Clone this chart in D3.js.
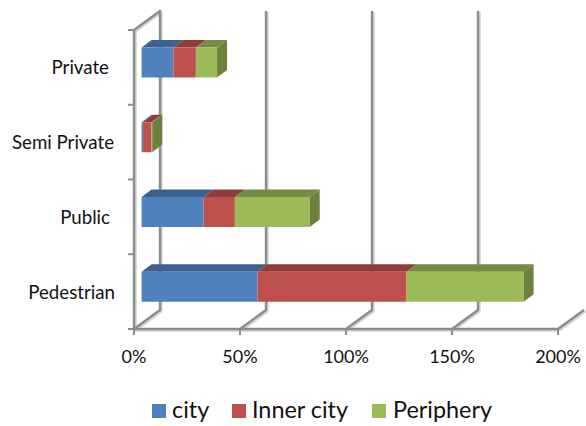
<!DOCTYPE html>
<html><head><meta charset="utf-8">
<script src="https://cdnjs.cloudflare.com/ajax/libs/d3/7.8.5/d3.min.js"></script>
<style>html,body{margin:0;padding:0;background:#fff}svg{display:block}text{font-family:Lato,"Open Sans",sans-serif;fill:#111}</style>
</head><body><svg id="c" width="586" height="426"></svg>
<script>
const categories=["Private","Semi Private","Public","Pedestrian"];
const labelRightEdges=[109,114,110,115];
const seriesNames=["city","Inner city","Periphery"];
const cityValues=[15,0.7,29.3,54.7];
const innerValues=[10.6,4,14.7,70.3];
const peripheryValues=[10,0.3,35.3,55.2];
const ticks=[0,50,100,150,200];
const colors=["#4f81bd","#c0504d","#9bbb59"];
const topColors=["#3c618e","#903c3a","#748c43"];
const sideColors=["#385a85","#863836","#6c823e"];
const seriesValues=[cityValues,innerValues,peripheryValues];

const svg=d3.select("#c");
const x=d3.scaleLinear().domain([0,200]).range([134,558]);
const y=d3.scaleBand().domain(categories).range([30,329]);
const wall={dx:26,dy:-19}, gap={dx:7.6,dy:-6}, depth={dx:10,dy:-7.5};
const barH=30, barOff=17.5;
const axis="#8c8c8c";
const line=(a,w=2,c=axis)=>svg.append("path").attr("d",d3.line()(a)).attr("fill","none").attr("stroke",c).attr("stroke-width",w).attr("stroke-linejoin","round");

[[1,3.5,"#d4d4d4"],[0,2.4,axis]].forEach(([s,w,c])=>{
  ticks.forEach(t=>{
    const X=x(t), B=y.range()[1];
    if(t>0) line([[X,B],[X+wall.dx,B+wall.dy],[X+wall.dx,y.range()[0]+wall.dy]].slice(0,t===200?2:3).map(p=>[p[0]+s,p[1]+s]),w,c);
    else line([[X,B],[X+wall.dx,B+wall.dy],[X+wall.dx,y.range()[0]+wall.dy],[X,y.range()[0]]].map(p=>[p[0]+s,p[1]+s]),w,c);
  });
  line([[x(0)+s,y.range()[0]],[x(0)+s,y.range()[1]+s],[x(200)+s,y.range()[1]+s]],w,c);
});
ticks.forEach(t=>line([[x(t),329],[x(t),335]],2));
y.domain().forEach(c=>line([[128,y(c)],[134,y(c)]],2));
line([[128,329],[134,329]],2);

categories.forEach((c,i)=>{
  let acc=0;
  const y0=y(c)+barOff;
  seriesValues.forEach((vals,s)=>{
    const x0=x(acc)+gap.dx, x1=x(acc+vals[i])+gap.dx;
    acc+=vals[i];
    svg.append("polygon").attr("fill",topColors[s]).attr("points",[[x0,y0],[x0+depth.dx,y0+depth.dy],[x1+depth.dx,y0+depth.dy],[x1,y0]].join(" "));
    svg.append("rect").attr("x",x0).attr("y",y0).attr("width",x1-x0).attr("height",barH).attr("fill",colors[s]);
    if(s===2) svg.append("polygon").attr("fill",sideColors[s]).attr("points",[[x1,y0],[x1+depth.dx,y0+depth.dy],[x1+depth.dx,y0+depth.dy+barH],[x1,y0+barH]].join(" "));
  });
});

categories.forEach((c,i)=>svg.append("text").attr("x",labelRightEdges[i]).attr("y",y(c)+y.bandwidth()/2+7).attr("text-anchor","end").attr("font-size",18.7).text(c));
ticks.forEach(t=>svg.append("text").attr("x",x(t)).attr("y",362.5).attr("text-anchor","middle").attr("font-size",18).text(t+"%"));

const legendSquare=[152,232,372], legendText=[172,252,393];
seriesNames.forEach((n,i)=>{
  svg.append("rect").attr("x",legendSquare[i]).attr("y",404).attr("width",14).attr("height",14).attr("fill",colors[i]);
  svg.append("text").attr("x",legendText[i]).attr("y",418).attr("font-size",23.4).text(n);
});
</script></body></html>
